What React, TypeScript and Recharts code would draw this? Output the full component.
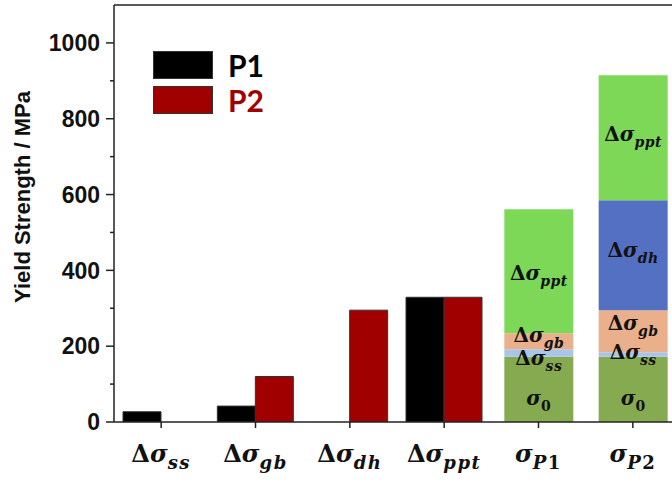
import { Bar, BarChart, LabelList, Legend, ReferenceLine, XAxis, YAxis } from "recharts";

// category labels, "_" splits off the subscript
const categories = ["Δσ_ss", "Δσ_gb", "Δσ_dh", "Δσ_ppt", "σ_P1", "σ_P2"];

// individual contributions (MPa)
const p1Values = [27, 42, null, 329, null, null];
const p2Values = [null, 120, 295, 329, null, null];

// stacked totals for the two alloys
const sigma0 = [null, null, null, null, 172, 172];
const ssPart = [null, null, null, null, 20, 12];
const gbPart = [null, null, null, null, 42, 111];
const dhPart = [null, null, null, null, null, 290];
const pptPart = [null, null, null, null, 327, 330];

const yTicks = [0, 100, 200, 300, 400, 500, 600, 700, 800, 900, 1000];
const seriesNames = ["P1", "P2"];

const segments = [
  { key: "s0", label: "σ_0", color: "#86aa50" },
  { key: "ss", label: "Δσ_ss", color: "#a8c6ea" },
  { key: "gb", label: "Δσ_gb", color: "#e9b08b" },
  { key: "dh", label: "Δσ_dh", color: "#5470c2" },
  { key: "ppt", label: "Δσ_ppt", color: "#7ed858" },
];

const data = categories.map((name, i) => ({
  name,
  P1: p1Values[i],
  P2: p2Values[i],
  s0: sigma0[i],
  ss: ssPart[i],
  gb: gbPart[i],
  dh: dhPart[i],
  ppt: pptPart[i],
}));

const RED = "#a00000";
const AXIS = "#222";
const MATH_FONT = "DejaVu Serif";

function MathText({ x, y, text, size, subSize, subShift, spacing = 0 }: any) {
  const [main, sub = ""] = text.split("_");
  return (
    <text x={x} y={y} textAnchor="middle" fontFamily={MATH_FONT} fontWeight="bold" fontSize={size} fill="#111">
      {main.split("").map((ch: string, i: number) => (
        <tspan key={"m" + i} fontStyle={ch === "Δ" ? "normal" : "italic"}>
          {ch}
        </tspan>
      ))}
      <tspan dy={subShift} fontSize={subSize} letterSpacing={spacing}>
        {sub.split("").map((ch: string, i: number) => (
          <tspan key={"s" + i} fontStyle={/[0-9]/.test(ch) ? "normal" : "italic"}>
            {ch}
          </tspan>
        ))}
      </tspan>
    </text>
  );
}

function XTick({ x, y, payload }: any) {
  return <MathText x={x} y={y + 34} text={payload.value} size={24} subSize={18} subShift={7} spacing={1.5} />;
}

function YTick({ x, y, payload }: any) {
  const major = payload.value % 200 === 0;
  return (
    <g>
      <line x1={x - (major ? 8 : 4)} x2={x} y1={y} y2={y} stroke={AXIS} strokeWidth={1.5} />
      {major && (
        <text x={x - 14} y={y} dy="0.36em" textAnchor="end" fontFamily="Liberation Sans" fontWeight="bold" fontSize={23} fill="#111">
          {payload.value}
        </text>
      )}
    </g>
  );
}

// nudges so the small segments' labels sit like the original
const labelNudge: Record<string, number> = {
  "s0-σ_P1": 16, "s0-σ_P2": 16,
  "ss-σ_P1": 12, "ss-σ_P2": 4,
  "gb-σ_P1": 1, "gb-σ_P2": -1,
  "dh-σ_P2": 2,
  "ppt-σ_P1": 9, "ppt-σ_P2": 3,
};

const segLabel = (key: string, text: string) => (props: any) => {
  const { x, y, width, height, value } = props;
  if (value == null) return null;
  const cy = Number(y) + Number(height) / 2 + (labelNudge[`${key}-${value}`] ?? 4);
  return <MathText x={Number(x) + Number(width) / 2} y={cy} text={text} size={20} subSize={14} subShift={6} spacing={0.5} />;
};

function LegendBox({ payload }: any) {
  const items = (payload || []).filter((p: any) => seriesNames.includes(p.value));
  return (
    <div style={{ display: "flex", flexDirection: "column", gap: 7 }}>
      {items.map((p: any) => (
        <div key={p.value} style={{ display: "flex", alignItems: "center", height: 28 }}>
          <div style={{ width: 58, height: 26, background: p.color, border: "1px solid #333", marginRight: 15 }} />
          <span style={{ fontFamily: "Lato", fontWeight: 700, fontSize: 30, color: p.value === "P2" ? RED : "#000", lineHeight: "28px" }}>
            {p.value}
          </span>
        </div>
      ))}
    </div>
  );
}

export default function App() {
  return (
    <div style={{ position: "absolute", left: 0, top: 0, width: 672, height: 481, overflow: "hidden", background: "#fff" }}>
      <BarChart width={700} height={481} data={data} margin={{ top: 5, right: 20, bottom: 0, left: 0 }} barGap={0}>
        <XAxis
          xAxisId="a"
          dataKey="name"
          height={59}
          tickSize={6}
          tickMargin={0}
          tick={<XTick />}
          axisLine={{ stroke: AXIS, strokeWidth: 1.5 }}
          tickLine={{ stroke: AXIS, strokeWidth: 1.5 }}
        />
        <XAxis xAxisId="b" dataKey="name" hide />
        <YAxis
          width={114}
          domain={[0, 1100]}
          ticks={yTicks}
          allowDataOverflow
          tickSize={0}
          tickMargin={0}
          tick={<YTick />}
          tickLine={false}
          axisLine={{ stroke: AXIS, strokeWidth: 1.5 }}
          label={{
            content: () => (
              <text
                x={30}
                y={197}
                transform="rotate(-90, 30, 197)"
                textAnchor="middle"
                fontFamily="Liberation Sans"
                fontWeight="bold"
                fontSize={22}
                fill="#111"
              >
                Yield Strength / MPa
              </text>
            ),
          }}
        />
        <ReferenceLine xAxisId="a" y={1100} stroke={AXIS} strokeWidth={1.5} />
        <Legend
          layout="horizontal"
          align="center"
          verticalAlign="middle"
          content={<LegendBox />}
          wrapperStyle={{ position: "absolute", left: 153, top: 51, width: "auto", height: "auto" }}
        />
        <Bar xAxisId="a" dataKey="P1" name="P1" fill="#000" stroke="#333" barSize={38} isAnimationActive={false} />
        <Bar xAxisId="a" dataKey="P2" name="P2" fill={RED} stroke="#333" barSize={38} isAnimationActive={false} />
        {segments.map((s) => (
          <Bar
            key={s.key}
            xAxisId="b"
            dataKey={s.key}
            stackId="sum"
            fill={s.color}
            barSize={69}
            legendType="none"
            isAnimationActive={false}
          >
            <LabelList
              dataKey={(d: any) => (d[s.key] == null ? null : d.name)}
              content={segLabel(s.key, s.label)}
            />
          </Bar>
        ))}
      </BarChart>
    </div>
  );
}
